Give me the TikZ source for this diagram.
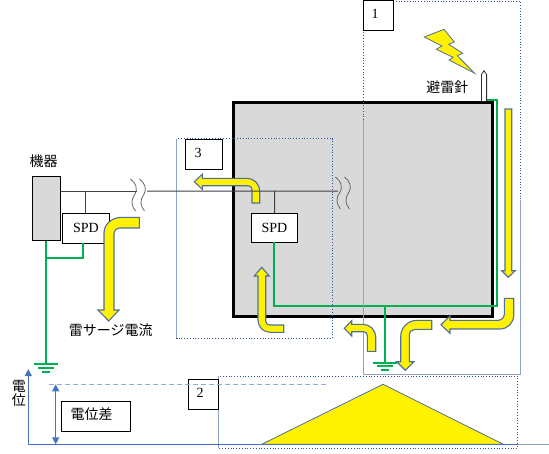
\documentclass[tikz,border=0pt]{standalone}
\usepackage{fontspec}
\setmainfont{Liberation Serif}
\newfontfamily\jpfont{Noto Sans CJK JP}
\usetikzlibrary{arrows.meta,calc,positioning}
\definecolor{surgeedge}{HTML}{4F6E9E}
\definecolor{earth}{HTML}{00B050}
\definecolor{axisblue}{HTML}{4472C4}
\definecolor{dashblue}{HTML}{8FAADC}
\definecolor{zonelight}{HTML}{8EA3C6}
\definecolor{zonedark}{HTML}{2F5597}
\definecolor{bodygray}{HTML}{D9D9D9}
\tikzset{
  lbl/.style={font=\fontsize{14}{14}\selectfont,inner sep=0pt},
  jplbl/.style={font=\jpfont\fontsize{14}{14}\selectfont,inner sep=0pt,align=center},
  spdbox/.style={draw=black,fill=white,line width=1pt,lbl},
  numbox/.style={draw=black,fill=white,line width=1pt,lbl},
  surge/.style={fill=yellow,draw=surgeedge,line width=1.1pt,line join=miter},
  earthline/.style={earth,line width=1.8pt},
  wire/.style={draw=black!75,line width=1pt},
  wavy/.style={draw=black!60,line width=0.8pt},
  zonedot/.style={zonedark,line width=0.8pt,dotted},
  zonesolid/.style={zonelight,line width=1pt},
  potaxis/.style={axisblue,line width=1.2pt}
}
\newcommand{\gndsign}[1]{%
  \draw[earthline] ($(#1)+(-12,0)$) -- ($(#1)+(12,0)$);
  \draw[earthline] ($(#1)+(-8,3.6)$) -- ($(#1)+(8,3.6)$);
  \draw[earthline] ($(#1)+(-4,7.6)$) -- ($(#1)+(4,7.6)$);}
\newcommand{\breakmark}[1]{%
  \draw[wavy] ($(#1)+(0,0)$) .. controls ($(#1)+(5,4)$) and ($(#1)+(8,9)$) .. ($(#1)+(4,16)$) .. controls ($(#1)+(0,22)$) and ($(#1)+(1,27)$) .. ($(#1)+(5,32)$);
  \draw[wavy] ($(#1)+(9,0)$) .. controls ($(#1)+(14,4)$) and ($(#1)+(17,9)$) .. ($(#1)+(13,16)$) .. controls ($(#1)+(9,22)$) and ($(#1)+(10,27)$) .. ($(#1)+(14,32)$);}

\begin{document}
\begin{tikzpicture}[x=1pt,y=-1pt,>=Latex]
\useasboundingbox (0,0) rectangle (549,453);
% building
\draw[fill=bodygray,line width=3pt] (233.5,102.5) rectangle (492.5,316.4);
% rod
\draw[fill=white,draw=black!80,line width=0.8pt] (481.4,101) -- (481.4,74.5) -- (484,70.7) -- (486.6,74.5) -- (486.6,101);
% wires
\node[draw=black,fill=bodygray,line width=1pt,minimum width=28.4pt,minimum height=64pt,inner sep=0pt] (device) at (46.5,208.3) {};
\node[spdbox,minimum width=47.4pt,minimum height=30pt] (spdleft) at (86,228.3) {SPD};
\node[spdbox,minimum width=46.4pt,minimum height=29pt] (spdright) at (274.5,227.8) {SPD};
\coordinate (breakleft) at (137,191.6);
\coordinate (afterleft) at (147,191.2);
\coordinate (breakright) at (338,191);
\coordinate (tapleft) at (85.7,191.6);
\coordinate (tapright) at (274.7,191);
\draw[wire] (device.east |- breakleft) -- (breakleft);
\draw[wire] (tapleft) -- (tapleft |- spdleft.north);
\draw[wire] (tapright) -- (spdright.north);
\breakmark{130.5,179}
\breakmark{335.5,177}
% earthing
\coordinate (gndleft) at (46,364);
\coordinate (gndright) at (385,362.7);
\coordinate (roofend) at (486.7,99.7);
\coordinate (downcorner) at (496.7,305.7);
\draw[earthline] (device.south -| gndleft) -- (gndleft);
\draw[earthline] (83,243.3) |- (46,257.7);
\draw[earthline] (roofend) -| (downcorner) -- (274,305.7) -- (274,242.3);
\draw[earthline] (385,305.7) -- (gndright);
\gndsign{gndleft}
\gndsign{gndright}
% zones
\draw[zonedot] (363.5,120) -- (363.5,1) -- (520.3,1) -- (520.3,200);
\draw[zonesolid] (363.5,120) -- (363.5,374.3) -- (520.3,374.3) -- (520.3,200);
\draw[zonedot] (176.5,138.5) rectangle (332.5,338);
\draw[zonesolid] (176.5,138.5) -- (176.5,338);
\draw[zonedot] (218.5,376) rectangle (517.3,448);
\draw[zonesolid] (218.5,376) -- (218.5,448);
\node[numbox,minimum width=30.4pt,minimum height=30.4pt] (numa) at (378.6,15.3) {};
\node[lbl] (numatxt) at (375,14) {1};
\node[numbox,minimum width=30pt,minimum height=30pt] (numb) at (203.3,394.3) {};
\node[lbl] (numbtxt) at (200,393) {2};
\node[numbox,minimum width=37.4pt,minimum height=30pt] (numc) at (204,154.3) {};
\node[lbl] (numctxt) at (198,152.7) {3};
% surge arrows
\draw[surge] (139.3,217.3) -- (122,217.3) .. controls (112,217.3) and (104,224) .. (104,233) -- (104,310) -- (98,310) -- (108.7,321) -- (119,310) -- (114,310) -- (114,234) .. controls (114,230.5) and (116.5,228) .. (120,228) -- (139.3,228) -- cycle;
\draw[surge] (505,109) -- (511.7,109) -- (511.7,270.7) -- (515.3,270.7) -- (508.3,277.3) -- (501.7,270.7) -- (505,270.7) -- cycle;
\draw[surge] (513.7,298.3) -- (513.7,315) .. controls (513.7,323) and (507.7,329) .. (499.7,329) -- (450,329) -- (450,333.3) -- (441,324.7) -- (450,316) -- (450,320.3) -- (498,320.3) .. controls (501.5,320.3) and (504.3,317.5) .. (504.3,314) -- (504.3,298.3) -- cycle;
\draw[surge] (431.7,320.3) -- (417,320.3) .. controls (408,320.3) and (400.7,327.6) .. (400.7,336.6) -- (400.7,361.7) -- (396.7,361.7) -- (405.3,370.3) -- (414,361.7) -- (409.3,361.7) -- (409.3,335) .. controls (409.3,331.8) and (412,329.3) .. (415,329.3) -- (431.7,329.3) -- cycle;
\draw[surge] (367.3,351.3) -- (367.3,335.5) .. controls (367.3,333) and (365.5,331.7) .. (363.5,331.7) -- (351.7,331.7) -- (351.7,336) -- (344.3,328.3) -- (351.7,320.7) -- (351.7,324.3) -- (363,324.3) .. controls (370,324.3) and (375.7,330) .. (375.7,337) -- (375.7,351.3) -- cycle;
\draw[surge] (283.7,325) -- (269.5,325) .. controls (267.3,325) and (265.7,323.3) .. (265.7,321) -- (265.7,276) -- (269.3,276) -- (261.7,267.3) -- (254.3,276) -- (258,276) -- (258,320) .. controls (258,327) and (263.3,332.3) .. (270.3,332.3) -- (283.7,332.3) -- cycle;
\draw[surge] (252,203) -- (252,189.5) .. controls (252,187.2) and (250.5,185.7) .. (248,185.7) -- (202.3,185.7) -- (202.3,189.3) -- (194.3,181.7) -- (202.3,174.3) -- (202.3,178.3) -- (247,178.3) .. controls (254,178.3) and (259.7,184) .. (259.7,191) -- (259.7,203) -- cycle;
\draw[wire] (afterleft) -- (breakright);
% lightning
\draw[surge,line width=0.8pt] (424.3,37) -- (444,29.3) -- (454.3,42) -- (448.7,44.3) -- (462.7,53.3) -- (457.3,55.7) -- (474.7,73.3) -- (449,60) -- (453,57.3) -- (436.3,49.3) -- (442,46) -- cycle;
% potential graph
\coordinate (origin) at (28.3,444.3);
\coordinate (axistop) at (28.3,369);
\coordinate (axisend) at (549,444.3);
\coordinate (apex) at (383,384.3);
\coordinate (dashstart) at (49.3,384.3);
\coordinate (dashend) at (326.7,384.3);
\coordinate (difftop) at (55.7,384.3);
\coordinate (diffbot) at (55.7,444.3);
\draw[surge,line width=0.8pt] (261.7,444.3) -- (apex) -- (503.3,444.3) -- cycle;
\draw[dashblue,line width=1.3pt,dash pattern=on 5pt off 3pt] (dashstart) -- (dashend);
\draw[potaxis] (origin) -- (518,444.3);
\draw[zonesolid] (518,444.3) -- (axisend);
\draw[potaxis,-{Triangle[width=7pt,length=7pt]}] (origin) -- (axistop);
\draw[potaxis,{Triangle[width=7pt,length=7pt]}-{Triangle[width=7pt,length=7pt]}] (difftop) -- (diffbot);
\node[draw=black,fill=white,line width=1pt,minimum width=69.4pt,minimum height=30pt,inner sep=0pt] (diffbox) at (96,416.3) {};
% labels
\node[jplbl] (difftxt) at (91.7,414.3) {電位差};
\node[jplbl] (axistxt) at (19,393.3) {電\\位};
\node[jplbl] (devtxt) at (43.7,161) {機器};
\node[jplbl] (surgetxt) at (110.7,330) {雷サージ電流};
\node[jplbl] (rodtxt) at (447.3,87.3) {避雷針};
\end{tikzpicture}
\end{document}
